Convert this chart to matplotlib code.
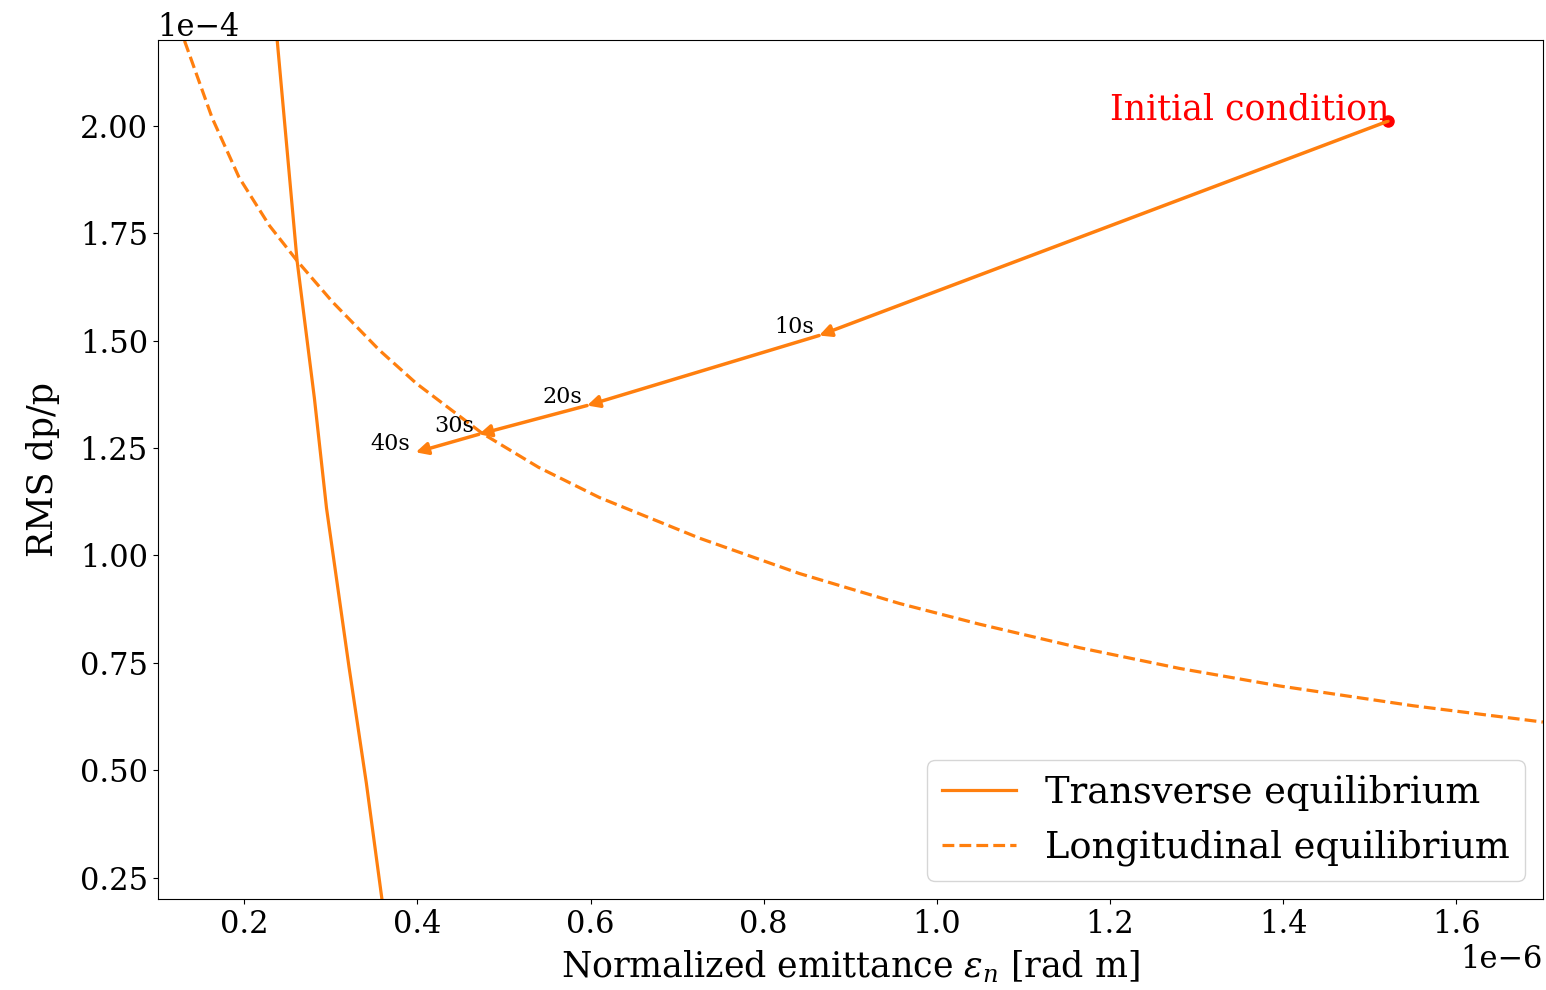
import numpy as np
import matplotlib
matplotlib.use("Agg")
import matplotlib.pyplot as plt

plt.rcParams['font.family'] = 'DejaVu Serif'
plt.rcParams['mathtext.fontset'] = 'dejavuserif'

# transverse equilibrium (solid), x in 1e-6, y in 1e-4
trans_x = [0.238, 0.261, 0.281, 0.295, 0.321, 0.341, 0.359]
trans_y = [2.20, 1.686, 1.366, 1.11, 0.74, 0.47, 0.20]

# longitudinal equilibrium (dashed)
long_x = [0.131, 0.163, 0.194, 0.229, 0.261, 0.302, 0.356, 0.399, 0.475, 0.540, 0.610,
          0.726, 0.841, 0.957, 1.049, 1.165, 1.280, 1.396, 1.55, 1.70]
long_y = [2.198, 2.018, 1.880, 1.768, 1.686, 1.590, 1.478, 1.400, 1.284, 1.205, 1.135,
          1.040, 0.958, 0.888, 0.840, 0.785, 0.737, 0.696, 0.650, 0.612]

# cooling trajectory
traj_x = [1.521, 0.864, 0.596, 0.471, 0.398]
traj_y = [2.011, 1.512, 1.349, 1.282, 1.240]
traj_labels = ['', '10s', '20s', '30s', '40s']

orange = '#ff7f0e'

fig, ax = plt.subplots(figsize=(15.46, 9.9), dpi=100)
fig.subplots_adjust(left=0.102, right=0.998, top=0.9596, bottom=0.0919)

ax.plot(np.array(trans_x) * 1e-6, np.array(trans_y) * 1e-4, color=orange, lw=2.3,
        label='Transverse equilibrium')
ax.plot(np.array(long_x) * 1e-6, np.array(long_y) * 1e-4, color=orange, lw=2.3, ls='--',
        label='Longitudinal equilibrium')

for i in range(1, len(traj_x)):
    ax.annotate('', xy=(traj_x[i] * 1e-6, traj_y[i] * 1e-4),
                xytext=(traj_x[i - 1] * 1e-6, traj_y[i - 1] * 1e-4),
                arrowprops=dict(arrowstyle='-|>', color=orange, lw=2.5,
                                mutation_scale=18, shrinkA=0, shrinkB=0))
    ax.text(traj_x[i] * 1e-6 - 0.006e-6, traj_y[i] * 1e-4 + 0.005e-4, traj_labels[i],
            fontsize=16, ha='right', va='baseline')

ax.plot(traj_x[0] * 1e-6, traj_y[0] * 1e-4, 'o', color='red', ms=8)
ax.text(traj_x[0] * 1e-6 + 0.002e-6, traj_y[0] * 1e-4 + 0.005e-4, 'Initial condition',
        color='red', fontsize=25, ha='right', va='baseline')

ax.set_xlim(0.1e-6, 1.7e-6)
ax.set_ylim(0.2e-4, 2.2e-4)
ax.set_yticks(np.arange(0.25, 2.01, 0.25) * 1e-4)
ax.ticklabel_format(axis='y', style='sci', scilimits=(-4, -4))
ax.tick_params(labelsize=22)
ax.xaxis.get_offset_text().set_fontsize(22)
ax.yaxis.get_offset_text().set_fontsize(22)
ax.set_xlabel(r'Normalized emittance $\varepsilon_n$ [rad m]', fontsize=25, labelpad=6)
ax.set_ylabel('RMS dp/p', fontsize=25, labelpad=14)
ax.legend(loc='lower right', fontsize=26.5)

plt.savefig('out.png')
